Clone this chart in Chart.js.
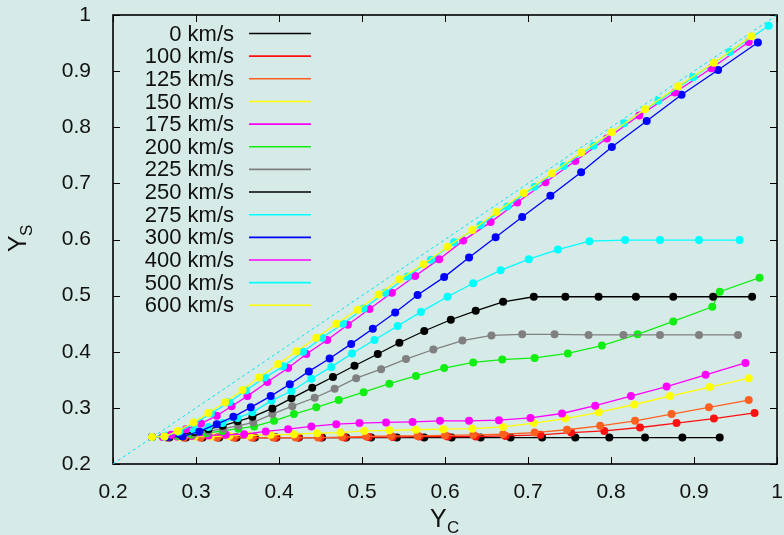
<!DOCTYPE html>
<html>
<head>
<meta charset="utf-8">
<script src="https://cdn.jsdelivr.net/npm/chart.js@4"></script>
<style>
html, body { margin: 0; padding: 0; background: #d6ebe8; }
canvas { display: block; }
</style>
</head>
<body>
<canvas id="chart" width="784" height="535"></canvas>
<script>
// series labels, in legend order
const labels = ['0 km/s', '100 km/s', '125 km/s', '150 km/s', '175 km/s', '200 km/s', '225 km/s',
                '250 km/s', '275 km/s', '300 km/s', '400 km/s', '500 km/s', '600 km/s'];

const ticks = [0.2, 0.3, 0.4, 0.5, 0.6, 0.7, 0.8, 0.9, 1];

// Y_C / Y_S values per speed
const yc0 = [0.247, 0.268, 0.288, 0.308, 0.328, 0.349, 0.371, 0.397, 0.424, 0.452, 0.481, 0.511, 0.542, 0.575, 0.608, 0.643, 0.679, 0.717, 0.757, 0.798, 0.841, 0.886, 0.931];
const ys0 = [0.248, 0.247, 0.247, 0.247, 0.247, 0.247, 0.247, 0.247, 0.247, 0.247, 0.247, 0.247, 0.247, 0.247, 0.247, 0.247, 0.247, 0.247, 0.247, 0.247, 0.247, 0.247, 0.247];

const yc100 = [0.247, 0.266, 0.286, 0.306, 0.326, 0.347, 0.369, 0.396, 0.423, 0.450, 0.479, 0.508, 0.537, 0.569, 0.603, 0.637, 0.673, 0.715, 0.752, 0.792, 0.835, 0.879, 0.924, 0.973];
const ys100 = [0.248, 0.247, 0.247, 0.247, 0.247, 0.247, 0.247, 0.247, 0.247, 0.247, 0.247, 0.248, 0.248, 0.249, 0.249, 0.249, 0.250, 0.252, 0.256, 0.259, 0.265, 0.273, 0.281, 0.291];

const yc125 = [0.247, 0.265, 0.285, 0.305, 0.325, 0.345, 0.367, 0.393, 0.420, 0.447, 0.476, 0.505, 0.535, 0.567, 0.600, 0.634, 0.670, 0.708, 0.747, 0.787, 0.829, 0.873, 0.918, 0.966];
const ys125 = [0.248, 0.247, 0.247, 0.247, 0.247, 0.247, 0.247, 0.247, 0.247, 0.247, 0.248, 0.249, 0.250, 0.250, 0.251, 0.252, 0.253, 0.256, 0.261, 0.268, 0.277, 0.289, 0.301, 0.314];

const yc150 = [0.247, 0.262, 0.280, 0.298, 0.318, 0.340, 0.364, 0.390, 0.418, 0.446, 0.474, 0.503, 0.533, 0.565, 0.598, 0.633, 0.670, 0.707, 0.745, 0.785, 0.828, 0.871, 0.919, 0.966];
const ys150 = [0.248, 0.248, 0.248, 0.249, 0.249, 0.250, 0.251, 0.252, 0.253, 0.255, 0.256, 0.259, 0.260, 0.261, 0.262, 0.263, 0.266, 0.273, 0.281, 0.292, 0.306, 0.321, 0.337, 0.353];

const yc175 = [0.247, 0.260, 0.277, 0.295, 0.315, 0.336, 0.358, 0.384, 0.411, 0.439, 0.469, 0.497, 0.529, 0.561, 0.594, 0.629, 0.665, 0.703, 0.741, 0.781, 0.824, 0.867, 0.914, 0.962];
const ys175 = [0.248, 0.248, 0.249, 0.250, 0.251, 0.252, 0.253, 0.258, 0.262, 0.267, 0.271, 0.273, 0.274, 0.275, 0.277, 0.277, 0.278, 0.282, 0.290, 0.304, 0.321, 0.338, 0.359, 0.380];

const yc200 = [0.247, 0.262, 0.278, 0.295, 0.313, 0.332, 0.351, 0.370, 0.394, 0.418, 0.445, 0.472, 0.502, 0.533, 0.565, 0.599, 0.634, 0.669, 0.708, 0.748, 0.789, 0.832, 0.875, 0.922, 0.931, 0.979];
const ys200 = [0.248, 0.249, 0.250, 0.252, 0.255, 0.259, 0.263, 0.267, 0.277, 0.289, 0.301, 0.314, 0.328, 0.343, 0.357, 0.371, 0.381, 0.386, 0.389, 0.397, 0.411, 0.431, 0.454, 0.480, 0.507, 0.532];

const yc225 = [0.247, 0.264, 0.281, 0.298, 0.315, 0.333, 0.351, 0.369, 0.392, 0.416, 0.443, 0.467, 0.493, 0.523, 0.553, 0.586, 0.621, 0.656, 0.693, 0.732, 0.773, 0.815, 0.859, 0.906, 0.953];
const ys225 = [0.248, 0.249, 0.251, 0.254, 0.258, 0.263, 0.268, 0.274, 0.289, 0.303, 0.318, 0.334, 0.353, 0.369, 0.387, 0.404, 0.420, 0.429, 0.431, 0.431, 0.430, 0.430, 0.430, 0.430, 0.430];

const yc250 = [0.247, 0.264, 0.281, 0.298, 0.315, 0.332, 0.350, 0.368, 0.392, 0.415, 0.440, 0.465, 0.491, 0.519, 0.545, 0.575, 0.607, 0.637, 0.670, 0.707, 0.745, 0.785, 0.830, 0.875, 0.923, 0.970];
const ys250 = [0.248, 0.250, 0.253, 0.257, 0.262, 0.268, 0.276, 0.284, 0.299, 0.317, 0.336, 0.355, 0.375, 0.396, 0.416, 0.437, 0.457, 0.473, 0.489, 0.498, 0.498, 0.498, 0.498, 0.498, 0.498, 0.498];

const yc275 = [0.247, 0.264, 0.281, 0.298, 0.315, 0.332, 0.350, 0.368, 0.391, 0.415, 0.439, 0.463, 0.488, 0.515, 0.543, 0.571, 0.603, 0.634, 0.667, 0.701, 0.736, 0.774, 0.817, 0.859, 0.906, 0.955];
const ys275 = [0.248, 0.251, 0.255, 0.260, 0.266, 0.273, 0.282, 0.292, 0.313, 0.330, 0.352, 0.373, 0.397, 0.421, 0.446, 0.471, 0.498, 0.522, 0.545, 0.565, 0.582, 0.597, 0.599, 0.599, 0.599, 0.599];

const yc300 = [0.247, 0.266, 0.284, 0.304, 0.325, 0.345, 0.366, 0.390, 0.413, 0.436, 0.461, 0.487, 0.513, 0.540, 0.567, 0.599, 0.629, 0.661, 0.693, 0.727, 0.764, 0.801, 0.843, 0.885, 0.929, 0.977];
const ys300 = [0.248, 0.248, 0.249, 0.258, 0.271, 0.284, 0.301, 0.321, 0.342, 0.365, 0.388, 0.414, 0.441, 0.470, 0.501, 0.533, 0.568, 0.604, 0.640, 0.678, 0.720, 0.765, 0.811, 0.858, 0.902, 0.951];

const yc400 = [0.247, 0.270, 0.288, 0.306, 0.325, 0.343, 0.362, 0.386, 0.411, 0.433, 0.458, 0.483, 0.509, 0.536, 0.564, 0.593, 0.622, 0.655, 0.687, 0.721, 0.757, 0.795, 0.834, 0.877, 0.921, 0.966];
const ys400 = [0.248, 0.252, 0.262, 0.272, 0.286, 0.303, 0.321, 0.346, 0.371, 0.396, 0.421, 0.448, 0.476, 0.505, 0.535, 0.565, 0.598, 0.631, 0.666, 0.702, 0.740, 0.780, 0.821, 0.862, 0.905, 0.952];

const yc500 = [0.247, 0.262, 0.280, 0.298, 0.318, 0.340, 0.360, 0.383, 0.405, 0.429, 0.452, 0.477, 0.502, 0.528, 0.555, 0.583, 0.611, 0.643, 0.675, 0.708, 0.743, 0.779, 0.816, 0.857, 0.899, 0.943, 0.990];
const ys500 = [0.248, 0.249, 0.258, 0.272, 0.290, 0.310, 0.331, 0.354, 0.374, 0.400, 0.425, 0.450, 0.477, 0.505, 0.534, 0.564, 0.595, 0.626, 0.659, 0.694, 0.731, 0.767, 0.807, 0.847, 0.889, 0.934, 0.981];

const yc600 = [0.247, 0.262, 0.278, 0.297, 0.315, 0.335, 0.356, 0.376, 0.399, 0.421, 0.445, 0.469, 0.495, 0.520, 0.545, 0.574, 0.603, 0.633, 0.662, 0.695, 0.729, 0.764, 0.801, 0.841, 0.881, 0.924, 0.969];
const ys600 = [0.248, 0.249, 0.259, 0.274, 0.291, 0.310, 0.332, 0.354, 0.378, 0.401, 0.425, 0.450, 0.475, 0.502, 0.529, 0.556, 0.587, 0.617, 0.649, 0.683, 0.718, 0.755, 0.791, 0.832, 0.873, 0.915, 0.962];

// Y_S = Y_C reference line
const diagX = [0.2, 1];
const diagY = [0.2, 1];

const xsAll = [yc0, yc100, yc125, yc150, yc175, yc200, yc225, yc250, yc275, yc300, yc400, yc500, yc600];
const ysAll = [ys0, ys100, ys125, ys150, ys175, ys200, ys225, ys250, ys275, ys300, ys400, ys500, ys600];
const colors = ['#000000', '#ff1010', '#ff6020', '#ffff00', '#ff00ff', '#11ee11', '#808080',
                '#000000', '#00ffff', '#0000ff', '#ff00ff', '#00ffff', '#ffff00'];

const FONT = '"Liberation Sans", Arial, sans-serif';

const datasets = labels.map((label, i) => ({
    label,
    data: xsAll[i].map((x, j) => ({ x, y: ysAll[i][j] })),
    showLine: true,
    borderColor: colors[i],
    backgroundColor: colors[i],
    borderWidth: 1.3,
    pointRadius: 4,
    pointBorderWidth: 0,
    pointHoverRadius: 4,
    order: 50 - i
}));

datasets.push({
    label: 'diag',
    data: diagX.map((x, j) => ({ x, y: diagY[j] })),
    showLine: true,
    borderColor: '#00e5ee',
    borderWidth: 1,
    borderDash: [3, 3],
    pointRadius: 0,
    order: 100
});

const framePlugin = {
    id: 'frame',
    beforeDatasetsDraw(chart) {
        const { ctx, chartArea: a, scales } = chart;
        ctx.save();
        ctx.strokeStyle = '#000';
        ctx.lineWidth = 1;
        ctx.beginPath();
        ticks.forEach(t => {
            const px = Math.round(scales.x.getPixelForValue(t)) + 0.5;
            ctx.moveTo(px, a.bottom); ctx.lineTo(px, a.bottom - 7);
            ctx.moveTo(px, a.top); ctx.lineTo(px, a.top + 7);
            const py = Math.round(scales.y.getPixelForValue(t)) + 0.5;
            ctx.moveTo(a.left, py); ctx.lineTo(a.left + 7, py);
            ctx.moveTo(a.right, py); ctx.lineTo(a.right - 7, py);
        });
        ctx.stroke();
        ctx.lineWidth = 1.6;
        ctx.strokeRect(a.left, a.top, a.right - a.left, a.bottom - a.top);
        ctx.restore();
    },
    afterDraw(chart) {
        const { ctx } = chart;
        ctx.save();
        // legend
        ctx.font = '22px ' + FONT;
        ctx.textAlign = 'right';
        ctx.textBaseline = 'middle';
        labels.forEach((label, i) => {
            const y = 33.5 + 22.65 * i;
            ctx.fillStyle = '#111';
            ctx.fillText(label, 234, y + 1);
            ctx.strokeStyle = colors[i];
            ctx.lineWidth = 1.6;
            ctx.beginPath();
            ctx.moveTo(249, y);
            ctx.lineTo(311, y);
            ctx.stroke();
        });
        // axis titles
        ctx.fillStyle = '#111';
        ctx.textAlign = 'left';
        ctx.textBaseline = 'alphabetic';
        ctx.font = '25px ' + FONT;
        ctx.fillText('Y', 430, 527);
        ctx.font = '17px ' + FONT;
        ctx.fillText('C', 447, 533);
        ctx.translate(26, 252);
        ctx.rotate(-Math.PI / 2);
        ctx.font = '25px ' + FONT;
        ctx.fillText('Y', 0, 0);
        ctx.font = '17px ' + FONT;
        ctx.fillText('S', 16, 6);
        ctx.restore();
    }
};

const tickFmt = v => Number(v.toFixed(1)).toString();

new Chart(document.getElementById('chart'), {
    type: 'scatter',
    data: { datasets },
    options: {
        responsive: false,
        animation: false,
        layout: { padding: { top: 15, right: 7, left: 0, bottom: 0 } },
        plugins: { legend: { display: false }, tooltip: { enabled: false } },
        scales: {
            x: {
                type: 'linear', min: 0.2, max: 1,
                grid: { display: false },
                border: { display: false },
                ticks: { stepSize: 0.1, padding: 8, color: '#111', font: { family: FONT, size: 21 }, callback: tickFmt, maxRotation: 0 },
                afterFit(s) { s.height = 71; s.paddingLeft = 0; s.paddingRight = 0; }
            },
            y: {
                type: 'linear', min: 0.2, max: 1,
                grid: { display: false },
                border: { display: false },
                ticks: { stepSize: 0.1, padding: 14, color: '#111', font: { family: FONT, size: 21 }, callback: tickFmt },
                afterFit(s) { s.width = 113; s.paddingTop = 0; s.paddingBottom = 0; }
            }
        }
    },
    plugins: [framePlugin]
});
</script>
</body>
</html>
